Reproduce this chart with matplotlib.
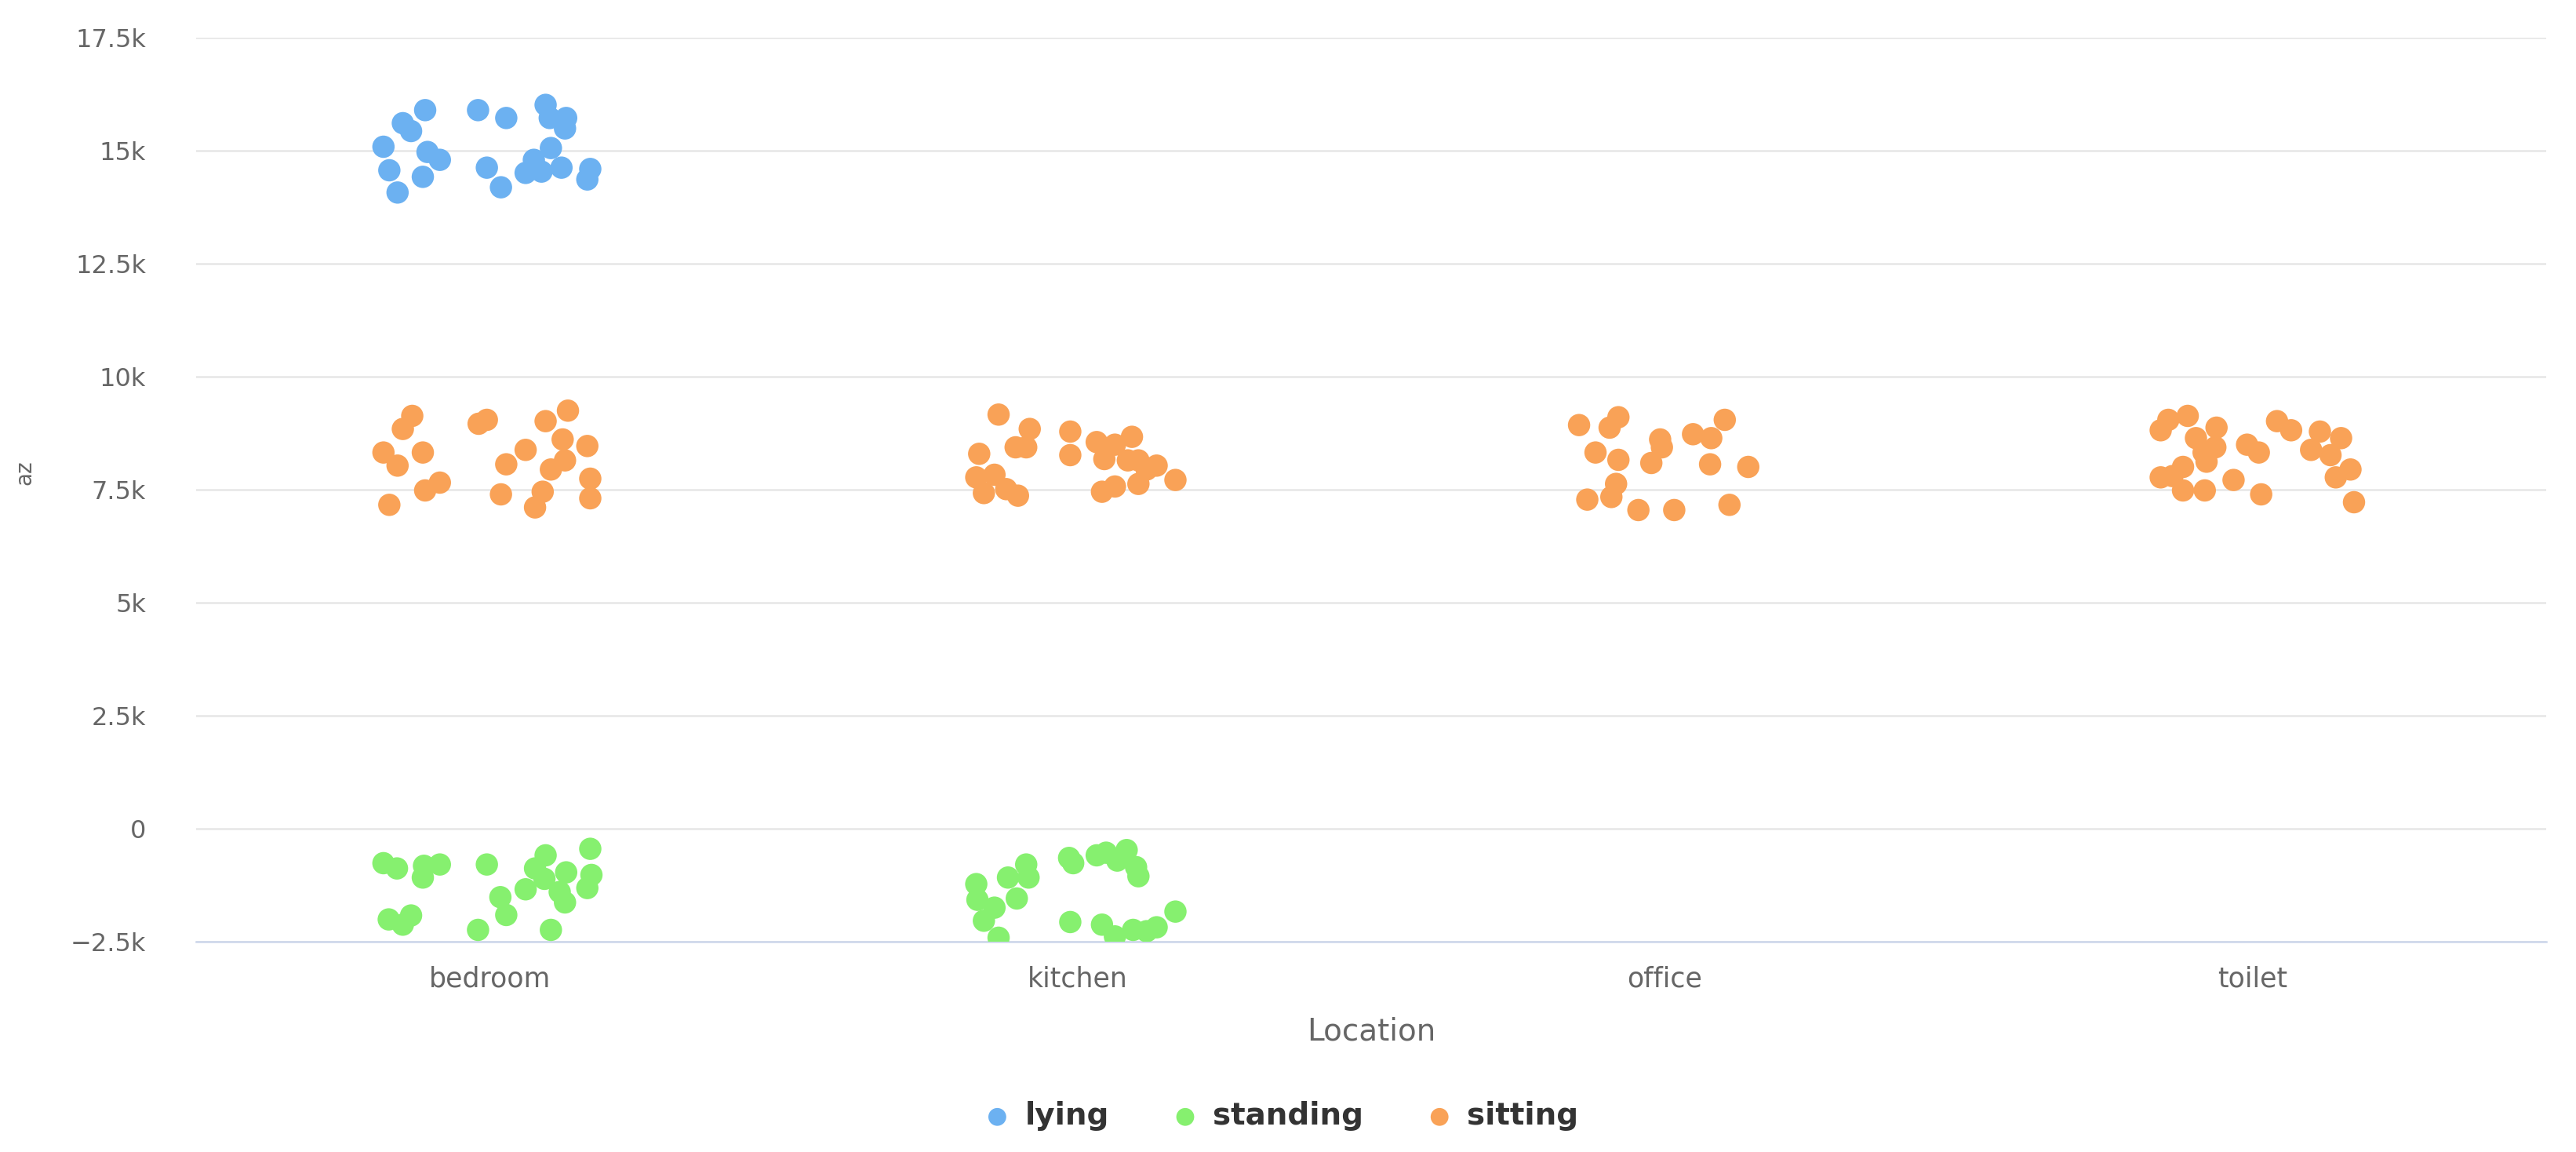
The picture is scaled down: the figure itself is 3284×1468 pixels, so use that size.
import matplotlib

matplotlib.use("Agg")
import matplotlib.pyplot as plt
from matplotlib.ticker import FuncFormatter
import numpy as np

# Categories on the x axis
locations = ["bedroom", "kitchen", "office", "toilet"]
activities = ["lying", "standing", "sitting"]
colors = {"lying": "#6cb1f1", "standing": "#86f06f", "sitting": "#f9a257"}

# Each series: location index, horizontal jitter (category units), az value
lying_loc = [0] * 24
lying_jitter = [-0.110, -0.148, -0.134, -0.181, -0.106, -0.085, -0.171, -0.114, -0.157,
                -0.020, 0.028, -0.005, 0.019, 0.095, 0.102, 0.130, 0.128, 0.104,
                0.075, 0.061, 0.088, 0.122, 0.171, 0.166]
lying_az = [15897, 15608, 15434, 15087, 14971, 14797, 14566, 14421, 14074,
            15897, 15723, 14624, 14190, 16013, 15723, 15723, 15492, 15058,
            14797, 14508, 14537, 14624, 14595, 14363]

standing_loc = [0] * 23 + [1] * 24
standing_jitter = [
    # bedroom
    -0.181, -0.158, -0.114, -0.112, -0.085, -0.172, -0.148, -0.134, -0.005, -0.020,
    0.018, 0.028, 0.061, 0.077, 0.095, 0.093, 0.130, 0.119, 0.128, 0.104,
    0.171, 0.173, 0.166,
    # kitchen
    -0.172, -0.170, -0.141, -0.159, -0.134, -0.118, -0.087, -0.083, -0.103, -0.014,
    -0.007, 0.033, 0.049, 0.084, 0.068, 0.100, 0.104, -0.012, 0.042, 0.064,
    0.095, 0.118, 0.135, 0.167,
]
standing_az = [
    -764, -880, -1082, -822, -793, -2008, -2124, -1921, -793, -2240,
    -1516, -1910, -1342, -880, -590, -1111, -967, -1401, -1632, -2240,
    -446, -1024, -1314,
    -1227, -1574, -1748, -2037, -2413, -1082, -793, -1082, -1545, -648,
    -764, -590, -532, -474, -706, -851, -1053, -2066, -2124, -2384,
    -2240, -2269, -2182, -1835,
]

sitting_loc = [0] * 23 + [1] * 24 + [2] * 19 + [3] * 26
sitting_jitter = [
    # bedroom
    -0.132, -0.148, -0.181, -0.157, -0.114, -0.085, -0.110, -0.171, -0.019, -0.005,
    0.061, 0.028, 0.019, 0.090, 0.077, 0.095, 0.133, 0.124, 0.128, 0.104,
    0.166, 0.171, 0.171,
    # kitchen
    -0.134, -0.081, -0.105, -0.087, -0.167, -0.172, -0.141, -0.159, -0.121, -0.101,
    -0.012, -0.012, 0.033, 0.064, 0.093, 0.046, 0.086, 0.104, 0.135, 0.042,
    0.064, 0.104, 0.167, 0.118,
    # office
    -0.146, -0.079, -0.094, -0.118, -0.079, -0.008, -0.005, -0.023, 0.048, 0.079,
    0.102, 0.077, 0.142, -0.083, -0.091, -0.132, -0.045, 0.016, 0.110,
    # toilet
    -0.156, -0.143, -0.110, -0.096, -0.061, -0.063, -0.083, -0.078, -0.118, -0.156,
    -0.136, -0.118, -0.081, -0.032, -0.009, 0.011, 0.015, 0.042, 0.066, 0.115,
    0.151, 0.100, 0.133, 0.167, 0.142, 0.173,
]
sitting_az = [
    9132, 8843, 8322, 8032, 8322, 7656, 7483, 7164, 8958, 9045,
    8380, 8061, 7396, 7454, 7107, 9016, 9248, 8611, 8148, 7946,
    8466, 7743, 7309,
    9161, 8843, 8437, 8437, 8293, 7772, 7830, 7425, 7512, 7367,
    8785, 8264, 8553, 8495, 8669, 8177, 8148, 8148, 8032, 7454,
    7570, 7627, 7714, 7946,
    8929, 9103, 8872, 8322, 8160, 8611, 8437, 8090, 8727, 8640,
    9045, 8061, 8003, 7627, 7338, 7280, 7049, 7049, 7164,
    8814, 9045, 9132, 8640, 8872, 8437, 8322, 8119, 8003, 7772,
    7801, 7483, 7483, 7714, 8495, 8322, 7396, 9016, 8814, 8785,
    8640, 8380, 8264, 7946, 7772, 7222,
]

y_ticks = [-2500, 0, 2500, 5000, 7500, 10000, 12500, 15000, 17500]

series = {
    "lying": (lying_loc, lying_jitter, lying_az),
    "standing": (standing_loc, standing_jitter, standing_az),
    "sitting": (sitting_loc, sitting_jitter, sitting_az),
}

plt.rcParams["font.family"] = ["DejaVu Sans"]

fig = plt.figure(figsize=(32.84, 14.68), dpi=100)
ax = fig.add_axes([0.0761, 0.1826, 0.9123, 0.7847])

for name in activities:
    loc, jit, az = series[name]
    x = np.asarray(loc, dtype=float) + np.asarray(jit)
    ax.scatter(x, az, s=420, color=colors[name], edgecolors="none", label=name, zorder=3)

ax.set_xlim(-0.5, len(locations) - 0.5)
ax.set_ylim(-2500, 17500)
ax.set_xticks(range(len(locations)))
ax.set_xticklabels(locations)
ax.set_yticks(y_ticks)


def k_format(v, _pos):
    if v == 0:
        return "0"
    s = f"{v / 1000:g}k"
    return s.replace("-", "\u2212")


ax.yaxis.set_major_formatter(FuncFormatter(k_format))

ax.grid(axis="y", color="#e6e6e6", linewidth=1.8, zorder=0)
ax.set_axisbelow(True)
for side in ("top", "right", "left"):
    ax.spines[side].set_visible(False)
ax.spines["bottom"].set_color("#ccd6eb")
ax.spines["bottom"].set_linewidth(1.8)
ax.spines["bottom"].set_zorder(1)

ax.tick_params(axis="y", length=0, pad=46, labelsize=23, labelcolor="#666666")
ax.tick_params(axis="x", length=0, pad=22, labelsize=25, labelcolor="#666666")

ax.set_xlabel("Location", fontsize=28, color="#666666", labelpad=22)
fig.text(0.0095, 0.59, "az", rotation=90, fontsize=20, color="#666666",
         ha="center", va="center")

fig.legend(
    loc="center",
    bbox_to_anchor=(0.497, 0.031),
    ncol=3,
    frameon=False,
    scatterpoints=1,
    markerscale=0.8,
    handlelength=1.0,
    handletextpad=0.4,
    columnspacing=2.0,
    prop={"weight": "bold", "size": 28},
    labelcolor="#333333",
)

fig.savefig("out.png", dpi=100)
